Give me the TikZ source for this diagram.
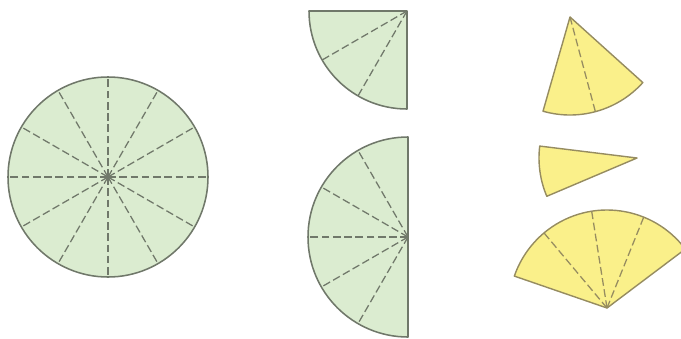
\documentclass[tikz,border=0pt]{standalone}
\usetikzlibrary{calc}

\definecolor{leaf}{RGB}{219,236,208}
\definecolor{leafline}{RGB}{112,120,106}
\definecolor{lemon}{RGB}{250,240,138}
\definecolor{lemonline}{RGB}{150,140,96}

\begin{document}
\begin{tikzpicture}[x=0.025cm,y=0.025cm,
    piece/.style={fill=leaf,draw=leafline,line width=1.1pt,line join=round},
    ypiece/.style={fill=lemon,draw=lemonline,line width=1pt,line join=round},
    cut/.style={draw=#1,line width=0.9pt,dash pattern=on 5.5pt off 2.5pt},
    cut/.default=leafline]
  \useasboundingbox (0,0) rectangle (681,338);

  % whole disc cut in twelve
  \coordinate (disc) at (108,161);
  \draw[piece] (disc) circle (100);
  \foreach \a in {0,30,...,330}
    \draw[cut] (disc) -- ++(\a:100);
  \fill[leafline] (disc) circle (2.2);

  % quarter and half
  \coordinate (quart) at (407,327);
  \draw[piece] (quart) -- ++(180:98) arc[start angle=180,end angle=270,radius=98] -- cycle;
  \foreach \a in {210,240}
    \draw[cut] (quart) -- ++(\a:98);

  \coordinate (half) at (408,101);
  \draw[piece] (half) -- ++(90:100) arc[start angle=90,end angle=270,radius=100] -- cycle;
  \foreach \a in {120,150,...,240}
    \draw[cut] (half) -- ++(\a:100);

  % yellow wedges
  \coordinate (wedgeA) at (570,321);
  \draw[ypiece] (wedgeA) -- ++(-106:98) arc[start angle=-106,end angle=-42,radius=98] -- cycle;
  \draw[cut=lemonline] (wedgeA) -- ++(-75:98);

  \coordinate (wedgeB) at (637,180);
  \draw[ypiece] (wedgeB) -- ++(173:98) arc[start angle=173,end angle=203,radius=98] -- cycle;

  \coordinate (wedgeC) at (607,30);
  \draw[ypiece] (wedgeC) -- ++(37:98) arc[start angle=37,end angle=161,radius=98] -- cycle;
  \foreach \a in {68,99,130}
    \draw[cut=lemonline] (wedgeC) -- ++(\a:98);
\end{tikzpicture}
\end{document}
